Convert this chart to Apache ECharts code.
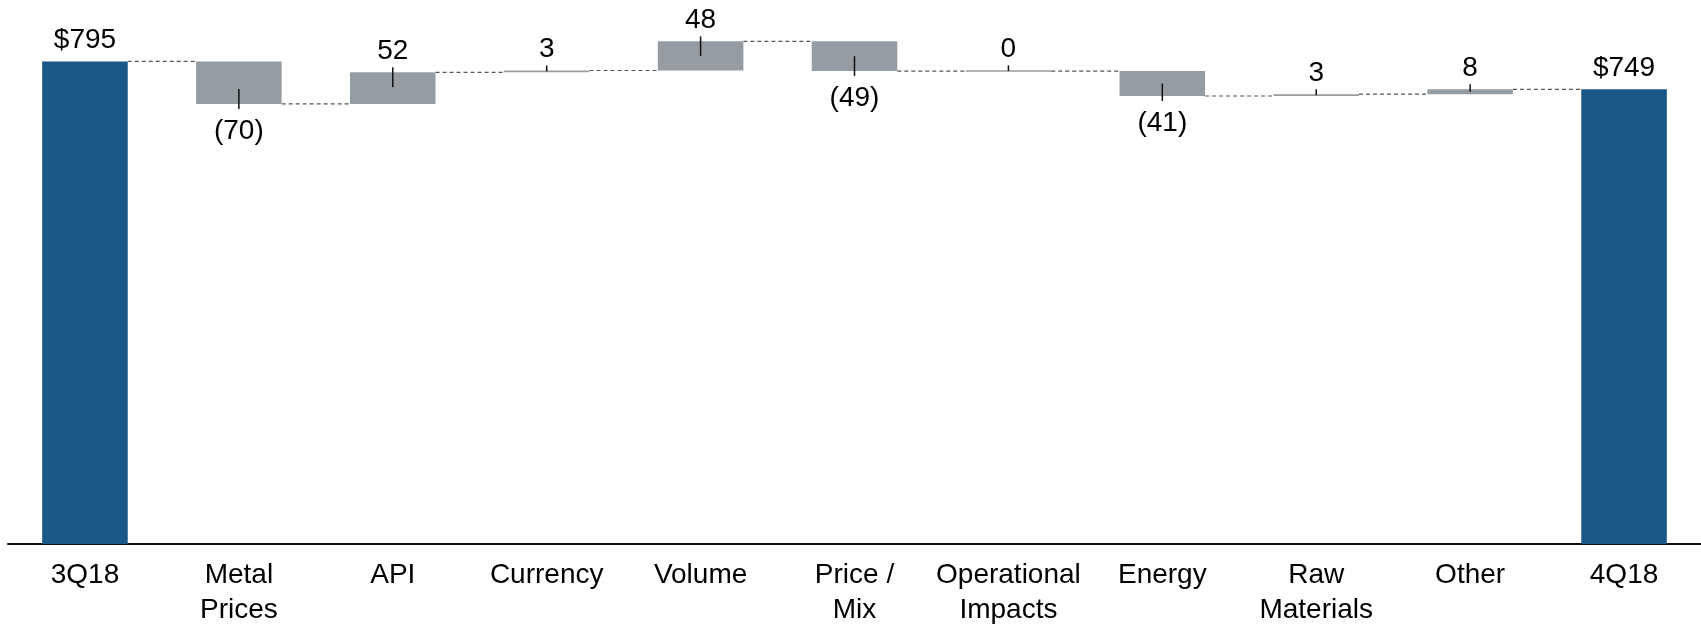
<!DOCTYPE html>
<html>
<head>
<meta charset="utf-8">
<script src="https://cdn.jsdelivr.net/npm/echarts@6/dist/echarts.min.js"></script>
<style>
html,body{margin:0;padding:0;background:#fff;}
#chart{width:1701px;height:628px;}
</style>
</head>
<body>
<div id="chart"></div>
<script>
const categories = ['3Q18', 'Metal\nPrices', 'API', 'Currency', 'Volume', 'Price /\nMix', 'Operational\nImpacts', 'Energy', 'Raw\nMaterials', 'Other', '4Q18'];
const startTotal = 795;
const changes = [-70, 52, 3, 48, -49, 0, -41, 3, 8];
const endTotal = 749;

const FONT = '"Liberation Sans", Arial, sans-serif';
const FS = 28;
const BLUE = '#1A5786';
const GREY = '#969DA2';
const BAR_FRAC = 0.556;

// totals bars
const totalData = categories.map((c, i) => i === 0 ? startTotal : (i === categories.length - 1 ? endTotal : '-'));

// delta bars: [index, from, to, value]
const deltaData = [];
const levels = [startTotal];
let run = startTotal;
changes.forEach((v, k) => {
  const from = run;
  run = run + v;
  deltaData.push([k + 1, from, run, v]);
  levels.push(run);
});
// connectors: [index, level] from bar index to index+1
const connData = levels.map((lv, i) => [i, lv]);

const chart = echarts.init(document.getElementById('chart'), null, {renderer: 'canvas'});
chart.setOption({
  animation: false,
  grid: {left: 8, right: 0, top: 28, bottom: 80, containLabel: false},
  xAxis: {
    type: 'category',
    data: categories,
    axisLine: {show: true, lineStyle: {color: '#111', width: 2}},
    axisTick: {show: false},
    axisLabel: {
      interval: 0, margin: 14, color: '#000', fontSize: FS, lineHeight: 35,
      fontFamily: FONT, verticalAlign: 'top'
    },
    splitLine: {show: false}
  },
  yAxis: {type: 'value', min: 0, max: 850, show: false, splitLine: {show: false}},
  series: [
    {
      type: 'bar',
      data: totalData,
      barWidth: (BAR_FRAC * 100) + '%',
      itemStyle: {color: BLUE},
      label: {
        show: true, position: 'top', distance: 7, color: '#000',
        fontSize: FS, fontFamily: FONT,
        formatter: p => '$' + p.value
      },
      z: 2
    },
    {
      type: 'custom',
      data: connData,
      clip: false,
      z: 1,
      renderItem: (params, api) => {
        const i = api.value(0);
        if (i >= categories.length - 1) return null;
        const lv = api.value(1);
        const p0 = api.coord([i, lv]);
        const p1 = api.coord([i + 1, lv]);
        const band = api.size([1, 0])[0];
        const w = band * BAR_FRAC;
        return {
          type: 'line',
          shape: {x1: p0[0] + w / 2, y1: p0[1], x2: p1[0] - w / 2, y2: p1[1]},
          style: {stroke: '#555', lineWidth: 1.2, lineDash: [4, 3]}
        };
      }
    },
    {
      type: 'custom',
      data: deltaData,
      clip: false,
      z: 3,
      renderItem: (params, api) => {
        const idx = api.value(0), a = api.value(1), b = api.value(2), v = api.value(3);
        const pA = api.coord([idx, a]);
        const pB = api.coord([idx, b]);
        const band = api.size([1, 0])[0];
        const w = band * BAR_FRAC;
        let top = Math.min(pA[1], pB[1]);
        let bottom = Math.max(pA[1], pB[1]);
        if (bottom - top < 1.5) {
          const m = (top + bottom) / 2;
          top = m - 0.75; bottom = m + 0.75;
        }
        const h = bottom - top;
        const cx = pA[0];
        const inner = Math.min(15, h / 2);
        let leader, label;
        const txt = v < 0 ? '(' + (-v) + ')' : String(v);
        if (v >= 0) {
          leader = {x1: cx, y1: top - 5, x2: cx, y2: top + inner};
          label = {x: cx, y: top - 21};
        } else {
          leader = {x1: cx, y1: bottom + 5, x2: cx, y2: bottom - inner};
          label = {x: cx, y: bottom + 27};
        }
        return {
          type: 'group',
          children: [
            {type: 'rect', shape: {x: cx - w / 2, y: top, width: w, height: h}, style: {fill: GREY}},
            {type: 'line', shape: leader, style: {stroke: '#111', lineWidth: 1.5}},
            {type: 'text', x: label.x, y: label.y,
              style: {text: txt, fill: '#000', fontSize: FS, fontFamily: FONT, align: 'center', verticalAlign: 'middle'}}
          ]
        };
      }
    }
  ]
});
</script>
</body>
</html>
